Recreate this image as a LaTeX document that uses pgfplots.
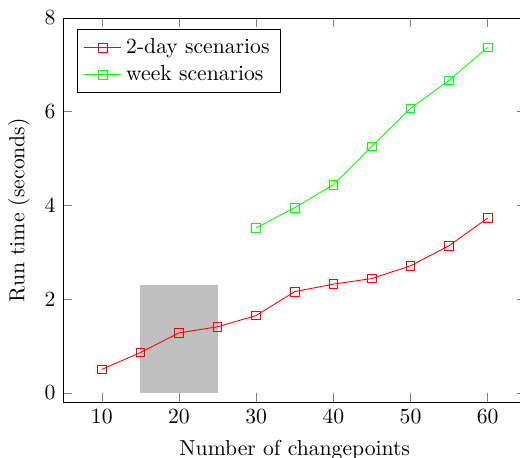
\documentclass[border=0pt]{standalone}
\usepackage{pgfplots}
\pgfplotsset{compat=1.18}
\begin{document}
\begin{tikzpicture}
\begin{axis}[
  name=ax,
  scale only axis,
  width=213.9pt, height=177.5pt,
  xmin=5, xmax=65, ymin=-0.2, ymax=8,
  xtick={10,20,30,40,50,60},
  ytick={0,2,4,6,8},
  xlabel={Number of changepoints},
  ylabel={Run time (seconds)},
  xlabel style={yshift=-0.6pt},
  legend pos=north west,
  legend cell align=left,
]
\addplot[fill=gray!50, draw=none, forget plot] coordinates {(15,0) (25,0) (25,2.3) (15,2.3)} -- cycle;
\addplot[color=red, mark=square] coordinates {
(10,0.50) (15,0.86) (20,1.28) (25,1.41) (30,1.65) (35,2.16) (40,2.32) (45,2.44) (50,2.71) (55,3.14) (60,3.73)
};
\addlegendentry{2-day scenarios}
\addplot[color=green, mark=square] coordinates {
(30,3.52) (35,3.95) (40,4.44) (45,5.26) (50,6.07) (55,6.67) (60,7.37)
};
\addlegendentry{week scenarios}
\end{axis}
\pgfresetboundingbox
\path[use as bounding box] ([xshift=-29.2pt,yshift=-25.3pt]ax.south west) rectangle ([xshift=-2.9pt,yshift=8.3pt]ax.north east);
\end{tikzpicture}
\end{document}
